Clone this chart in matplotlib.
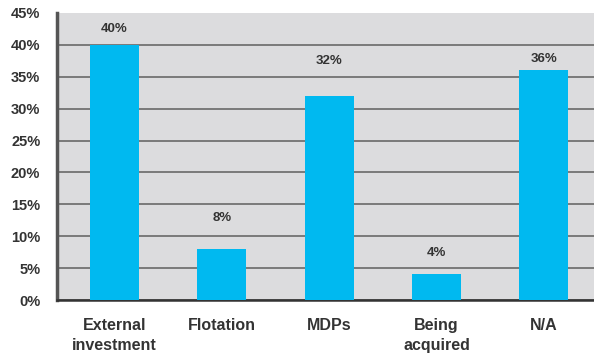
import matplotlib
matplotlib.use("Agg")
import matplotlib.pyplot as plt
from matplotlib.ticker import MultipleLocator, PercentFormatter

categories = ["External\ninvestment", "Flotation", "MDPs", "Being\nacquired", "N/A"]
values = [40, 8, 32, 4, 36]
value_labels = ["40%", "8%", "32%", "4%", "36%"]

# vertical placement of each value label, in axis units (%)
label_heights = [42.5, 12.9, 37.5, 7.4, 37.8]

plt.rcParams["font.family"] = ["Liberation Sans", "DejaVu Sans"]
plt.rcParams["font.weight"] = "bold"

fig = plt.figure(figsize=(5.94, 3.53), dpi=100)
ax = fig.add_axes([57 / 594, 53 / 353, 537 / 594, 287 / 353])
ax.set_facecolor("#dcdcde")

x = list(range(len(categories)))
ax.bar(x, values, width=0.456, color="#00b9f0", zorder=3)

for xi, lab, h in zip(x, value_labels, label_heights):
    ax.text(xi, h, lab, ha="center", va="center", fontsize=9.5,
            fontweight="bold", color="#333333", zorder=4)

ax.set_xlim(-0.536, 4.466)
ax.set_ylim(0, 45)
ax.yaxis.set_major_locator(MultipleLocator(5))
ax.yaxis.set_major_formatter(PercentFormatter(decimals=0))
ax.grid(axis="y", color="#7a7a7a", linewidth=1.4, zorder=1)
ax.set_axisbelow(True)

ax.set_xticks(x)
ax.set_xticklabels(categories, fontsize=11.5, fontweight="bold", color="#333333",
                   linespacing=1.45)
ax.tick_params(axis="x", length=0, pad=13)
ax.tick_params(axis="y", length=0, pad=12, labelsize=10.5, labelcolor="#333333")
for lbl in ax.get_yticklabels():
    lbl.set_fontweight("bold")

for side in ("top", "right"):
    ax.spines[side].set_visible(False)
ax.spines["left"].set_color("#555555")
ax.spines["left"].set_linewidth(2.5)
ax.spines["bottom"].set_color("#333333")
ax.spines["bottom"].set_linewidth(1.8)

# hide the gridline drawn at the top limit
for line, tick in zip(ax.get_ygridlines(), ax.get_yticks()):
    if tick >= 45:
        line.set_visible(False)

fig.savefig("out.png", dpi=100)
